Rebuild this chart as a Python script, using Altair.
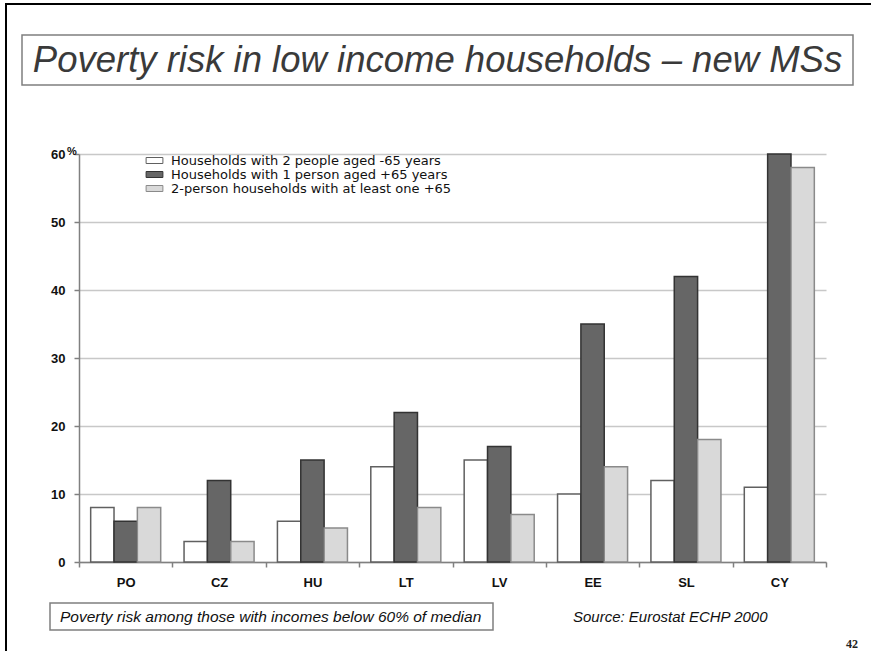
import altair as alt
import pandas as pd

# ---- data ----
countries = ["PO", "CZ", "HU", "LT", "LV", "EE", "SL", "CY"]
series = [
    "Households with 2 people aged -65 years",
    "Households with 1 person aged +65 years",
    "2-person households with at least one +65",
]
two_people_under65 = [8, 3, 6, 14, 15, 10, 12, 11]
one_person_over65 = [6, 12, 15, 22, 17, 35, 42, 60]
two_person_one_over65 = [8, 3, 5, 8, 7, 14, 18, 58]
y_ticks = [0, 10, 20, 30, 40, 50, 60]

title_text = "Poverty risk in low income households \u2013 new MSs"
note_text = "Poverty risk among those with incomes below 60% of median"
source_text = "Source: Eurostat ECHP 2000"
page_text = "42"

rows = []
for s, vals in zip(series, [two_people_under65, one_person_over65, two_person_one_over65]):
    for c, v in zip(countries, vals):
        rows.append({"country": c, "series": s, "value": v})
df = pd.DataFrame(rows)
one = pd.DataFrame({"k": [0]})

W, H = 747, 408
FONT = "Liberation Sans"

legend_cfg = dict(
    title=None,
    orient="none",
    legendX=69,
    legendY=0,
    symbolType="M-2.8,-1H2.8V1H-2.8Z",
    symbolSize=36,
    symbolStrokeWidth=1,
    labelFont="DejaVu Sans",
    labelFontSize=13,
    labelColor="#111111",
    labelOffset=10,
    labelLimit=0,
    rowPadding=-1,
    padding=0,
)

bars = alt.Chart(df).mark_bar(strokeWidth=1.5).encode(
    x=alt.X(
        "country:N",
        sort=countries,
        scale=alt.Scale(domain=countries, paddingInner=0, paddingOuter=0),
        axis=alt.Axis(
            title=None, labelAngle=0, ticks=True, tickBand="extent", tickSize=5,
            tickColor="#808080", tickWidth=1.5, domainColor="#808080", domainWidth=1.5,
            labelFont=FONT, labelFontSize=13, labelFontWeight="bold", labelColor="#111111",
            labelPadding=9, grid=False,
        ),
    ),
    xOffset=alt.XOffset(
        "series:N", sort=series,
        scale=alt.Scale(domain=series, paddingInner=0, paddingOuter=0.5),
    ),
    y=alt.Y(
        "value:Q",
        scale=alt.Scale(domain=[0, 60], nice=False),
        axis=alt.Axis(
            title=None, values=y_ticks, grid=True, gridColor="#c8c8c8", gridWidth=1.5,
            domainColor="#808080", domainWidth=1.5, tickColor="#808080", tickWidth=1.5,
            tickSize=5, labelFont=FONT, labelFontSize=13, labelFontWeight="bold",
            labelColor="#111111", labelPadding=9,
        ),
    ),
    fill=alt.Fill(
        "series:N", sort=series,
        scale=alt.Scale(domain=series, range=["#ffffff", "#666666", "#d9d9d9"]),
        legend=alt.Legend(**legend_cfg),
    ),
    stroke=alt.Stroke(
        "series:N", sort=series,
        scale=alt.Scale(domain=series, range=["#606060", "#333333", "#8a8a8a"]),
        legend=alt.Legend(**legend_cfg),
    ),
)

frame = alt.Chart(one).mark_rect(fill="transparent", stroke="#000000", strokeWidth=2).encode(
    x=alt.value(-73), x2=alt.value(805), y=alt.value(-150), y2=alt.value(510)
)
title_box = alt.Chart(one).mark_rect(fill="#ffffff", stroke="#7f7f7f", strokeWidth=1.5).encode(
    x=alt.value(-57), x2=alt.value(774), y=alt.value(-119), y2=alt.value(-69)
)
title = alt.Chart(one).mark_text(
    text=title_text, font=FONT, fontStyle="italic", fontSize=36.5, color="#3a3a3a",
    align="center", baseline="alphabetic",
).encode(x=alt.value(358.5), y=alt.value(-82))

note_box = alt.Chart(one).mark_rect(fill="#ffffff", stroke="#7f7f7f", strokeWidth=1.5).encode(
    x=alt.value(-29), x2=alt.value(414), y=alt.value(449), y2=alt.value(476)
)
note = alt.Chart(one).mark_text(
    text=note_text, font=FONT, fontStyle="italic", fontSize=15.5, color="#111111",
    align="left", baseline="alphabetic",
).encode(x=alt.value(-19), y=alt.value(468))
source = alt.Chart(one).mark_text(
    text=source_text, font=FONT, fontStyle="italic", fontSize=15, color="#111111",
    align="left", baseline="alphabetic",
).encode(x=alt.value(494), y=alt.value(468))
page = alt.Chart(one).mark_text(
    text=page_text, font="Liberation Serif", fontWeight="bold", fontSize=12, color="#222222",
    align="center", baseline="alphabetic",
).encode(x=alt.value(773), y=alt.value(494))
pct = alt.Chart(one).mark_text(
    text="%", font=FONT, fontWeight="bold", fontSize=11, color="#111111",
    align="center", baseline="middle",
).encode(x=alt.value(-7), y=alt.value(-2))

chart = alt.layer(frame, title_box, title, note_box, note, source, page, bars, pct).properties(
    width=W, height=H,
    autosize=alt.AutoSizeParams(type="none"),
    padding={"left": 79, "top": 154, "right": 45, "bottom": 89},
    background="#ffffff",
).configure_view(stroke=None)

chart.save("out.html", embed_options={"renderer": "svg", "actions": False})
